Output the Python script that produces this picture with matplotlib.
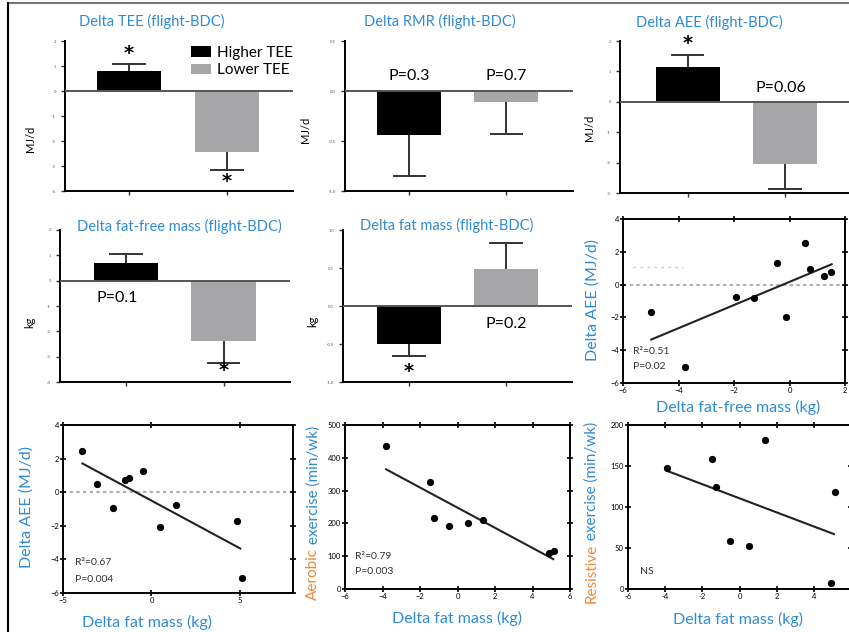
import numpy as np
import matplotlib
matplotlib.use('Agg')
import matplotlib.pyplot as plt
from matplotlib.lines import Line2D

plt.rcParams['font.family'] = ['Lato', 'DejaVu Sans']

BLUE = '#2f8bd3'
ORANGE = '#f0893a'
GRAY = '#a6a6a8'

groups = ['Higher TEE', 'Lower TEE']

# bar panels (higher TEE, lower TEE): mean change and error
tee_mean = [0.80, -2.44]
tee_err = [0.28, 0.72]
rmr_mean = [-0.44, -0.11]
rmr_err = [0.41, 0.32]
aee_mean = [1.15, -2.04]
aee_err = [0.40, 0.82]
ffm_mean = [0.71, -2.37]
ffm_err = [0.36, 0.87]
fm_mean = [-0.50, 0.49]
fm_err = [0.16, 0.34]

# scatter: delta AEE vs delta fat-free mass
ffm_x = [-4.98, -3.77, -1.94, -1.27, -0.44, -0.13, 0.56, 0.74, 1.24, 1.49]
ffm_aee = [-1.65, -5.02, -0.73, -0.84, 1.31, -2.00, 2.53, 0.94, 0.53, 0.78]
ffm_fit_x = [-4.98, 1.52]
ffm_fit_y = [-3.35, 1.24]

# scatter: delta AEE vs delta fat mass
fm_x = [-3.90, -3.06, -2.19, -1.52, -1.25, -0.49, 0.51, 1.37, 4.85, 5.11]
fm_aee = [2.43, 0.46, -0.92, 0.70, 0.86, 1.24, -2.05, -0.78, -1.71, -5.10]
fm_fit_x = [-3.90, 5.02]
fm_fit_y = [1.71, -3.35]

# exercise vs delta fat mass
ex_x = [-3.81, -1.47, -1.24, -0.45, 0.54, 1.38, 4.90, 5.15]
aerobic = [436, 327, 216, 192, 202, 210, 109, 117]
aer_fit_x = [-3.81, 5.11]
aer_fit_y = [365, 91]
res_x = [-3.89, -1.50, -1.28, -0.49, 0.52, 1.39, 4.90, 5.12]
resistive = [147, 158, 124, 58, 52, 182, 7, 118]
res_fit_x = [-3.89, 5.08]
res_fit_y = [144, 67]

W, H = 849, 632
fig = plt.figure(figsize=(W / 100, H / 100), dpi=100)


def rect(x0, x1, y0, y1):
    # pixel box -> figure fraction
    return [x0 / W, 1 - y1 / H, (x1 - x0) / W, (y1 - y0) / H]


def bar_panel(box, means, errs, ylim, yticks, xlim, title, tx, ty, ylab, lx, ly):
    ax = fig.add_axes(box)
    x = np.arange(2)
    ax.bar(x, means, width=0.66, color=['black', GRAY], zorder=2)
    for xi, m, e in zip(x, means, errs):
        end = m + e if m > 0 else m - e
        ax.plot([xi, xi], [m, end], color='#333333', lw=1.4, zorder=1)
        ax.plot([xi - 0.16, xi + 0.16], [end, end], color='#333333', lw=1.4, zorder=1)
    ax.axhline(0, color='#555555', lw=1.4, zorder=3)
    ax.set_xlim(xlim)
    ax.set_ylim(ylim)
    ax.set_yticks(yticks)
    ax.set_yticklabels([str(t) for t in yticks], fontsize=3, color='#555555')
    ax.set_xticks(x)
    ax.set_xticklabels([])
    ax.tick_params(length=3, width=1, color='#333333')
    for s in ['top', 'right']:
        ax.spines[s].set_visible(False)
    for s in ['left', 'bottom']:
        ax.spines[s].set_linewidth(1.4)
    ax.text(tx, ty, title, transform=ax.transAxes, ha='center', va='center',
            color=BLUE, fontsize=10.5)
    ax.text(lx, ly, ylab, transform=ax.transAxes, ha='center', va='center',
            rotation=90, fontsize=8)
    return ax


def star(ax, x, y):
    ax.text(x, y, '*', ha='center', va='center', fontsize=14, fontweight='bold',
            family='DejaVu Sans')


def scatter_panel(box, xs, ys, fx, fy, xlim, xticks, ylim, yticks):
    ax = fig.add_axes(box)
    ax.plot(xs, ys, 'o', color='black', ms=4.2, zorder=3)
    ax.plot(fx, fy, color='#222222', lw=1.5, zorder=2)
    ax.set_xlim(xlim)
    ax.set_ylim(ylim)
    ax.set_xticks(xticks)
    ax.set_yticks(yticks)
    ax.tick_params(direction='inout', length=4, width=1.2, labelsize=5.5,
                   top=True, right=True, pad=1)
    for s in ax.spines.values():
        s.set_linewidth(1.4)
    return ax


# ---- top row
ax1 = bar_panel(rect(65, 293, 41, 191), tee_mean, tee_err, (-4, 2), [2, 1, 0, -1, -2, -3, -4],
                (-0.653, 1.673), 'Delta TEE (flight-BDC)', 0.38, 1.127, 'MJ/d', -0.15, 0.35)
star(ax1, 0, 1.50)
star(ax1, 1, -3.62)
leg = ax1.legend(ax1.patches, groups, loc='upper left', bbox_to_anchor=(0.52, 1.02),
                 frameon=False, fontsize=11, handlelength=1.3, handleheight=0.7,
                 labelspacing=0.25, handletextpad=0.4, borderpad=0)

ax2 = bar_panel(rect(345, 573, 41, 191), rmr_mean, rmr_err, (-1.0, 0.5), [0.5, 0.0, -0.5, -1.0],
                (-0.665, 1.686), 'Delta RMR (flight-BDC)', 0.417, 1.127, 'MJ/d', -0.175, 0.41)
ax2.text(0, 0.15, 'P=0.3', ha='center', va='center', fontsize=11.5)
ax2.text(1, 0.15, 'P=0.7', ha='center', va='center', fontsize=11.5)

ax3 = bar_panel(rect(620, 850, 41, 193), aee_mean, aee_err, (-3, 2), [2, 1, 0, -1, -2, -3],
                (-0.70, 1.67), 'Delta AEE (flight-BDC)', 0.389, 1.125, 'MJ/d', -0.131, 0.43)
star(ax3, 0, 1.92)
ax3.text(0.96, 0.46, 'P=0.06', ha='center', va='center', fontsize=11.5)

# ---- middle row
ax4 = bar_panel(rect(60, 290, 230, 382), ffm_mean, ffm_err, (-4, 2), [2, 1, 0, -1, -2, -3, -4],
                (-0.677, 1.68), 'Delta fat-free mass (flight-BDC)', 0.52, 1.026, 'kg', -0.13, 0.39)
ax4.text(-0.09, -0.67, 'P=0.1', ha='center', va='center', fontsize=11.5)
star(ax4, 1, -3.56)

ax5 = bar_panel(rect(343, 572, 230, 382), fm_mean, fm_err, (-1.0, 1.0), [1.0, 0.5, 0.0, -0.5, -1.0],
                (-0.68, 1.68), 'Delta fat mass (flight-BDC)', 0.454, 1.03, 'kg', -0.13, 0.40)
star(ax5, 0, -0.86)
ax5.text(1.0, -0.24, 'P=0.2', ha='center', va='center', fontsize=11.5)

ax6 = scatter_panel(rect(623, 845, 219, 383), ffm_x, ffm_aee, ffm_fit_x, ffm_fit_y,
                    (-6, 2), [-6, -4, -2, 0, 2], (-6, 4), [-6, -4, -2, 0, 2, 4])
ax6.axhline(0, color='#b0b0b0', lw=1.6, ls=(0, (1.5, 1.5)), zorder=1)
ax6.plot([-5.64, -3.84], [1.1, 1.1], color='#cccccc', lw=1, ls=(0, (2, 3)), zorder=1)
ax6.text(0.045, 0.19, 'R²=0.51', transform=ax6.transAxes, fontsize=7.5, color='#333333', va='center')
ax6.text(0.045, 0.098, 'P=0.02', transform=ax6.transAxes, fontsize=7.5, color='#333333', va='center')
ax6.text(-0.135, 0.506, 'Delta AEE (MJ/d)', transform=ax6.transAxes, rotation=90,
         ha='center', va='center', color=BLUE, fontsize=11.5)
ax6.text(0.518, -0.152, 'Delta fat-free mass (kg)', transform=ax6.transAxes,
         ha='center', va='center', color=BLUE, fontsize=11.5)

# ---- bottom row
ax7 = scatter_panel(rect(63, 293, 425, 593), fm_x, fm_aee, fm_fit_x, fm_fit_y,
                    (-5, 8), [-5, 0, 5], (-6, 4), [-6, -4, -2, 0, 2, 4])
ax7.axhline(0, color='#b0b0b0', lw=1.6, ls=(0, (1.5, 1.5)), zorder=1)
ax7.text(0.052, 0.18, 'R²=0.67', transform=ax7.transAxes, fontsize=7.5, color='#333333', va='center')
ax7.text(0.052, 0.083, 'P=0.004', transform=ax7.transAxes, fontsize=7.5, color='#333333', va='center')
ax7.text(-0.157, 0.512, 'Delta AEE (MJ/d)', transform=ax7.transAxes, rotation=90,
         ha='center', va='center', color=BLUE, fontsize=11.5)
ax7.text(0.365, -0.175, 'Delta fat mass (kg)', transform=ax7.transAxes,
         ha='center', va='center', color=BLUE, fontsize=11.5)

ax8 = scatter_panel(rect(345, 570, 425, 589), ex_x, aerobic, aer_fit_x, aer_fit_y,
                    (-6, 6), [-6, -4, -2, 0, 2, 4, 6], (0, 500), [0, 100, 200, 300, 400, 500])
ax8.text(0.044, 0.20, 'R²=0.79', transform=ax8.transAxes, fontsize=7.5, color='#333333', va='center')
ax8.text(0.044, 0.104, 'P=0.003', transform=ax8.transAxes, fontsize=7.5, color='#333333', va='center')
t = ax8.text(-0.142, -0.07, 'Aerobic', transform=ax8.transAxes, rotation=90,
             ha='center', va='bottom', color=ORANGE, fontsize=11)
ax8.annotate(' exercise (min/wk)', xy=(0.5, 1), xycoords=t, rotation=90,
             ha='center', va='bottom', color=BLUE, fontsize=11)
ax8.text(0.498, -0.177, 'Delta fat mass (kg)', transform=ax8.transAxes,
         ha='center', va='center', color=BLUE, fontsize=11.5)

ax9 = scatter_panel(rect(628, 851, 425, 589), res_x, resistive, res_fit_x, res_fit_y,
                    (-6, 6), [-6, -4, -2, 0, 2, 4, 6], (0, 200), [0, 50, 100, 150, 200])
ax9.set_xticklabels(['-6', '-4', '-2', '0', '2', '4', ''])
ax9.text(0.054, 0.104, 'NS', transform=ax9.transAxes, fontsize=7.5, color='#333333', va='center')
t = ax9.text(-0.163, -0.085, 'Resistive', transform=ax9.transAxes, rotation=90,
             ha='center', va='bottom', color=ORANGE, fontsize=11)
ax9.annotate(' exercise (min/wk)', xy=(0.5, 1), xycoords=t, rotation=90,
             ha='center', va='bottom', color=BLUE, fontsize=11)
ax9.text(0.493, -0.185, 'Delta fat mass (kg)', transform=ax9.transAxes,
         ha='center', va='center', color=BLUE, fontsize=11.5)

# frame of the screenshot
fig.add_artist(Line2D([8 / W, 1], [1 - 3 / H, 1 - 3 / H], color='#777777', lw=1.5))
fig.add_artist(Line2D([8 / W, 8 / W], [0, 1 - 3 / H], color='black', lw=1.5))

fig.savefig('out.png', dpi=100)
